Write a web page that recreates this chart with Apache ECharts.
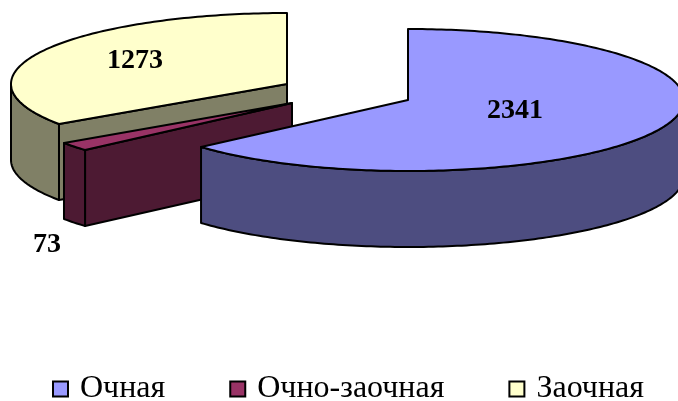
<!DOCTYPE html>
<html>
<head>
<meta charset="utf-8">
<style>html,body{margin:0;padding:0;background:#fff}#c{width:678px;height:401px}</style>
<script src="https://cdn.jsdelivr.net/npm/echarts@6/dist/echarts.min.js"></script>
</head>
<body>
<div id="c"></div>
<script>
// Data
const categories = ['Очная', 'Очно-заочная', 'Заочная'];
const values = [2341, 73, 1273];

// Styles
const topColors = ['#9999FF', '#993366', '#FFFFCC'];
const wallColors = ['#4D4D80', '#4D1A33', '#808066'];

// Layout: pie projection and exploded apex of each slice
const apexX = [408, 292, 287];
const apexY = [100, 103, 84];
const labelX = [515, 47, 135];
const labelY = [111, 245, 61];
const radiusX = 276, radiusY = 71, depth = 76;
const FONT = '"Liberation Serif","Times New Roman",serif';

const total = values.reduce((a, b) => a + b, 0);
const chart = echarts.init(document.getElementById('c'), null, { renderer: 'canvas' });

function arc(cx, cy, a0, a1, dy) {
  const pts = [], n = Math.max(2, Math.ceil(Math.abs(a1 - a0) / (Math.PI / 180)));
  for (let i = 0; i <= n; i++) {
    const a = a0 + (a1 - a0) * i / n;
    pts.push([cx + radiusX * Math.sin(a), cy - radiusY * Math.cos(a) + dy]);
  }
  return pts;
}
const stroke = { stroke: '#000', lineWidth: 2, lineJoin: 'round' };
function poly(points, fill) {
  return { type: 'polygon', shape: { points }, style: Object.assign({ fill }, stroke) };
}

function renderSlice(idx) {
  return function (params, api) {
    const value = api.value(0);
    let before = 0;
    for (let i = 0; i < idx; i++) before += values[i];
    const a0 = before / total * 2 * Math.PI;
    const a1 = (before + value) / total * 2 * Math.PI;
    const cx = apexX[idx], cy = apexY[idx];
    const wall = wallColors[idx];
    const children = [];
    // cut face on the leading edge, seen from the front when it faces the viewer
    if (Math.sin(a0) < -1e-6) {
      const p = arc(cx, cy, a0, a0, 0)[0];
      children.push(poly([[cx, cy], p, [p[0], p[1] + depth], [cx, cy + depth]], wall));
    }
    if (Math.sin(a1) > 1e-6) {
      const p = arc(cx, cy, a1, a1, 0)[0];
      children.push(poly([[cx, cy], p, [p[0], p[1] + depth], [cx, cy + depth]], wall));
    }
    // outer wall: the part of the rim on the near half of the ellipse
    const w0 = Math.max(a0, Math.PI / 2), w1 = Math.min(a1, 3 * Math.PI / 2);
    if (w1 > w0) {
      const up = arc(cx, cy, w0, w1, 0), down = arc(cx, cy, w1, w0, depth);
      children.push(poly(up.concat(down), wall));
    }
    // top surface
    children.push(poly([[cx, cy]].concat(arc(cx, cy, a0, a1, 0)), topColors[idx]));
    // value label
    children.push({
      type: 'text', x: labelX[idx], y: labelY[idx],
      style: { text: String(value), font: 'bold 28px ' + FONT, fill: '#000', align: 'center', verticalAlign: 'middle' }
    });
    return { type: 'group', children };
  };
}

chart.setOption({
  animation: false,
  backgroundColor: '#fff',
  legend: {
    left: 52, top: 373, padding: 0, icon: 'rect', itemWidth: 15, itemHeight: 15, itemGap: 64,
    data: categories,
    selectedMode: false,
    itemStyle: { borderColor: '#000', borderWidth: 2 },
    textStyle: { fontFamily: FONT, fontSize: 32, color: '#000', padding: [0, 0, 0, 7] }
  },
  series: categories.map((name, i) => ({
    type: 'custom', name, coordinateSystem: 'none', silent: true, clip: false,
    itemStyle: { color: topColors[i] },
    renderItem: renderSlice(i),
    data: [[values[i]]],
    z: 5 - i
  }))
});
</script>
</body>
</html>
